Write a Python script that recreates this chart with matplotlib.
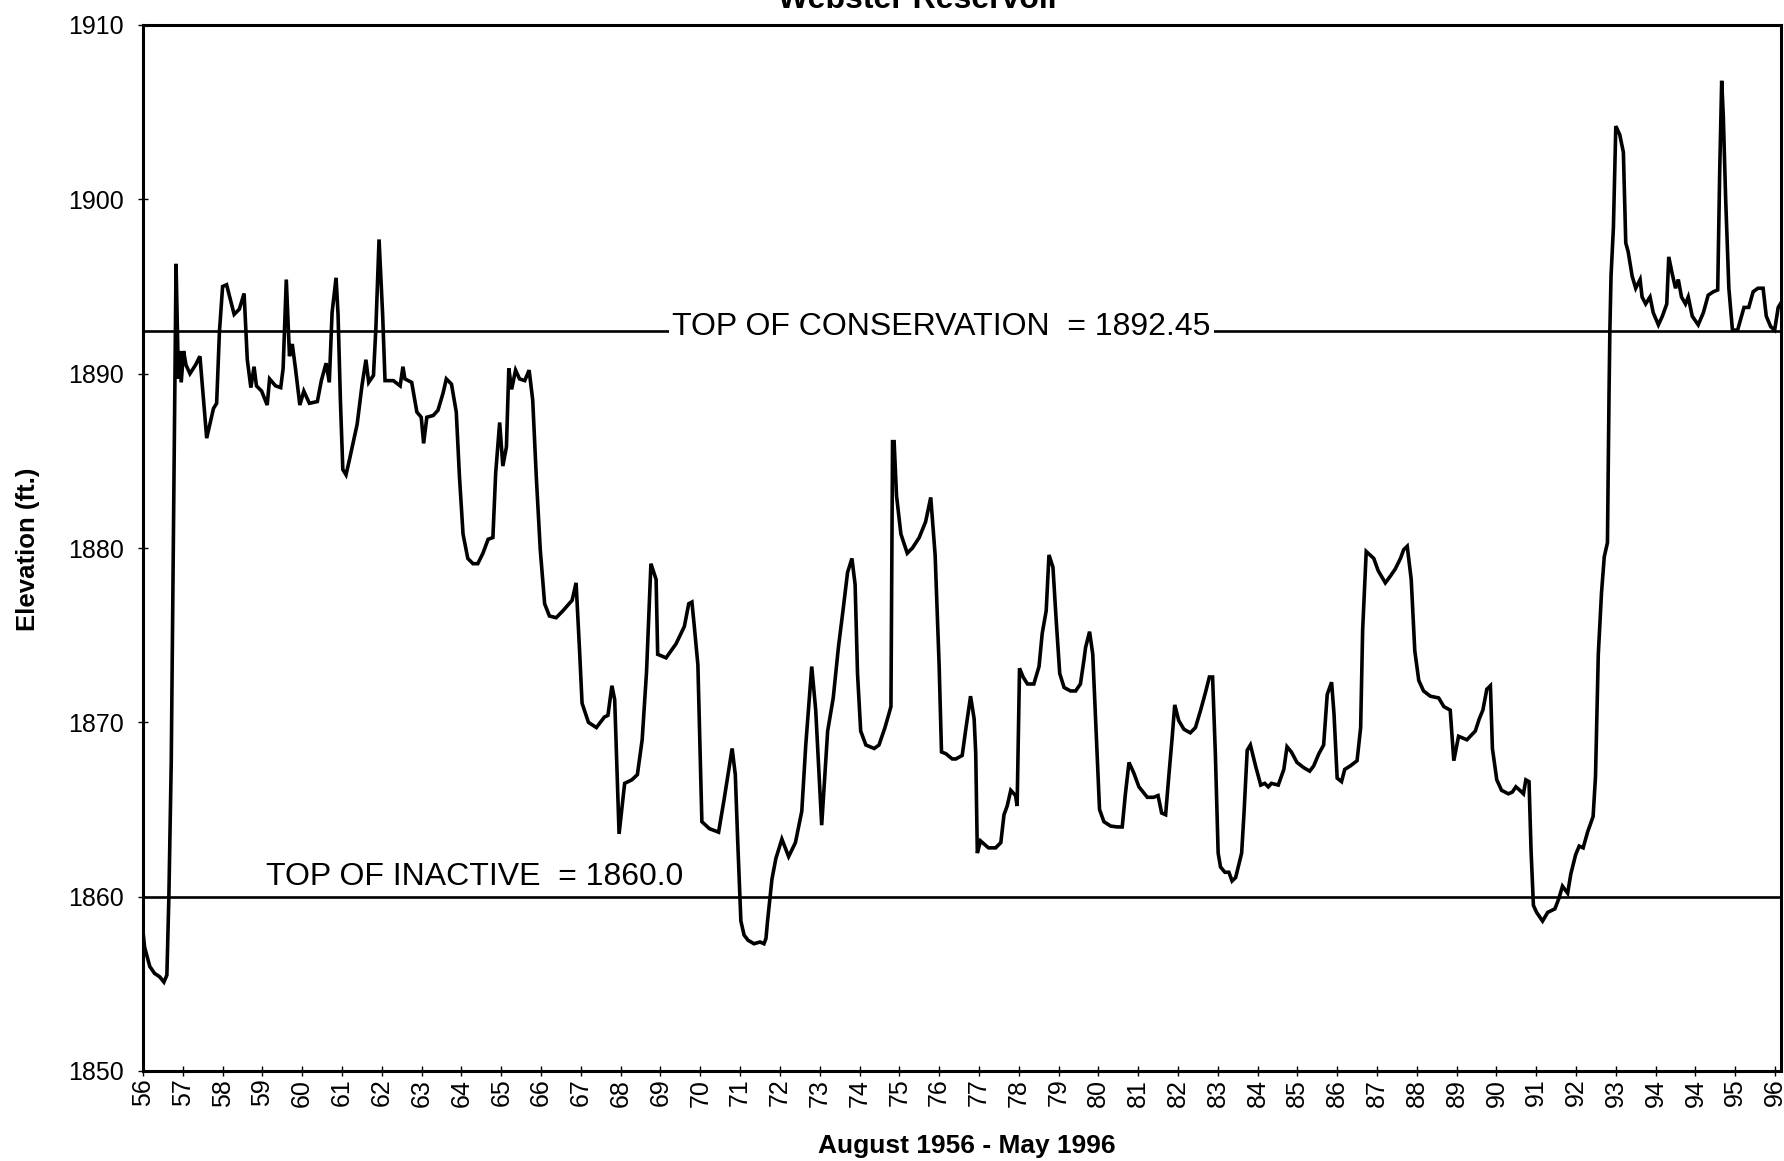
import matplotlib
matplotlib.use('Agg')
import matplotlib.pyplot as plt
import numpy as np

# reservoir elevation, Aug 1956 - May 1996
# pos = position along the category axis, one unit per labelled tick
pos = [
    0.00, 0.04, 0.17, 0.29, 0.42, 0.525, 0.60, 0.65, 0.71, 0.79, 0.83, 0.89, 0.92, 0.96,
    1.02, 1.08, 1.18, 1.32, 1.43, 1.52, 1.60, 1.68, 1.77, 1.85, 1.92,
    2.00, 2.10, 2.29, 2.42, 2.54, 2.62, 2.71, 2.79, 2.85, 2.98,
    3.12, 3.18, 3.33, 3.46, 3.52, 3.60, 3.68, 3.75, 3.83, 3.94,
    4.04, 4.18, 4.38, 4.48, 4.60, 4.68, 4.75, 4.85, 4.90, 4.96,
    5.02, 5.10, 5.18, 5.38, 5.50, 5.60, 5.67, 5.79, 5.85, 5.93,
    6.02, 6.08, 6.29, 6.46, 6.53, 6.58, 6.75, 6.88, 6.99,
    7.05, 7.13, 7.29, 7.41, 7.54, 7.62, 7.75, 7.87, 7.95,
    8.04, 8.16, 8.29, 8.41, 8.54, 8.67, 8.79, 8.86, 8.96,
    9.04, 9.13, 9.19, 9.26, 9.36, 9.46, 9.59, 9.70, 9.79, 9.88, 9.98,
    10.09, 10.21, 10.38, 10.55, 10.78, 10.88, 10.97,
    11.03, 11.19, 11.39, 11.59, 11.68, 11.78, 11.85, 11.96,
    12.10, 12.28, 12.42, 12.54, 12.65, 12.76, 12.89, 12.93,
    13.14, 13.39, 13.60, 13.71, 13.79, 13.85, 13.94,
    14.04, 14.23, 14.46, 14.60, 14.80, 14.88, 14.94,
    15.02, 15.10, 15.20, 15.35, 15.50, 15.60, 15.65, 15.69, 15.80, 15.90,
    16.05, 16.22, 16.39, 16.55, 16.65, 16.80, 16.90,
    17.05, 17.20, 17.34, 17.47, 17.59, 17.70, 17.81, 17.89, 17.95,
    18.03, 18.16, 18.37, 18.49, 18.64, 18.79, 18.83, 18.87, 18.93,
    19.04, 19.20, 19.33, 19.50, 19.66, 19.79, 19.90,
    20.00, 20.06, 20.17, 20.33, 20.42, 20.58, 20.67, 20.79, 20.88, 20.92, 20.96,
    21.04, 21.24, 21.42, 21.55, 21.63, 21.71, 21.80, 21.92, 21.96,
    22.02, 22.11, 22.22, 22.38, 22.51, 22.59, 22.69, 22.76, 22.86, 22.94,
    23.03, 23.14, 23.30, 23.43, 23.55, 23.64, 23.68, 23.78, 23.86, 23.97,
    24.03, 24.14, 24.31, 24.47, 24.60, 24.68, 24.77, 24.89,
    25.02, 25.23, 25.39, 25.50, 25.59, 25.69, 25.77, 25.85, 25.92,
    26.02, 26.15, 26.31, 26.44, 26.57, 26.69, 26.79, 26.87, 26.94,
    27.01, 27.07, 27.18, 27.28, 27.36, 27.45, 27.60, 27.66, 27.74, 27.82, 27.95,
    28.08, 28.18, 28.27, 28.35, 28.52, 28.66, 28.74, 28.85, 28.99,
    29.16, 29.31, 29.41, 29.54, 29.66, 29.75, 29.86, 29.92,
    30.00, 30.11, 30.19, 30.33, 30.50, 30.59, 30.64, 30.73, 30.92,
    31.03, 31.21, 31.34, 31.46, 31.59, 31.67, 31.76, 31.86, 31.95,
    32.05, 32.17, 32.34, 32.55, 32.68, 32.84, 32.93,
    33.05, 33.26, 33.47, 33.57, 33.66, 33.76, 33.85, 33.90,
    34.01, 34.13, 34.30, 34.40, 34.49, 34.59, 34.68, 34.74, 34.82, 34.87, 34.93,
    35.01, 35.16, 35.29, 35.47, 35.57, 35.66, 35.79, 35.87, 35.99,
    36.08, 36.18, 36.29, 36.43, 36.49, 36.56, 36.64, 36.71, 36.79, 36.83, 36.85, 36.88, 36.94,
    37.00, 37.10, 37.19, 37.25, 37.31, 37.41, 37.50, 37.61, 37.66, 37.75, 37.86, 37.94,
    38.07, 38.17, 38.28, 38.33, 38.42, 38.50, 38.57, 38.65, 38.75, 38.82, 38.92,
    39.07, 39.20, 39.32, 39.45, 39.56, 39.61, 39.66, 39.70, 39.76, 39.84, 39.93,
    40.06, 40.22, 40.34, 40.45, 40.57, 40.70, 40.78, 40.89, 40.99,
    41.08, 41.16,
]
elev = [
    1858.0, 1857.1, 1856.0, 1855.6, 1855.4, 1855.1, 1855.5, 1860.0, 1867.8, 1887.1, 1896.3, 1889.7, 1891.3, 1889.5,
    1891.3, 1890.5, 1890.0, 1890.5, 1891.0, 1888.5, 1886.3, 1887.1, 1888.0, 1888.3, 1892.4,
    1895.0, 1895.1, 1893.4, 1893.7, 1894.6, 1890.8, 1889.2, 1890.4, 1889.3, 1889.0,
    1888.2, 1889.7, 1889.3, 1889.2, 1890.3, 1895.4, 1891.0, 1891.7, 1890.3, 1888.2,
    1889.0, 1888.3, 1888.4, 1889.6, 1890.6, 1889.5, 1893.5, 1895.5, 1893.4, 1888.4,
    1884.5, 1884.2, 1885.0, 1887.1, 1889.3, 1890.8, 1889.5, 1889.9, 1892.6, 1897.7,
    1893.4, 1889.6, 1889.6, 1889.3, 1890.4, 1889.7, 1889.5, 1887.8, 1887.5,
    1886.0, 1887.5, 1887.6, 1887.9, 1888.9, 1889.7, 1889.4, 1887.8, 1884.1,
    1880.8, 1879.4, 1879.1, 1879.1, 1879.7, 1880.5, 1880.6, 1884.3, 1887.2,
    1884.7, 1885.8, 1890.3, 1889.1, 1890.2, 1889.7, 1889.6, 1890.2, 1888.5, 1884.1, 1879.9,
    1876.8, 1876.1, 1876.0, 1876.4, 1877.0, 1878.0, 1874.0,
    1871.1, 1870.0, 1869.7, 1870.3, 1870.4, 1872.1, 1871.3, 1863.6,
    1866.5, 1866.7, 1867.0, 1869.0, 1872.9, 1879.1, 1878.2, 1873.9,
    1873.7, 1874.5, 1875.5, 1876.8, 1876.9, 1875.5, 1873.3,
    1864.3, 1863.9, 1863.7, 1865.6, 1868.5, 1867.0, 1863.2,
    1858.6, 1857.8, 1857.5, 1857.3, 1857.4, 1857.3, 1857.6, 1858.6, 1861.0, 1862.2,
    1863.3, 1862.3, 1863.1, 1864.9, 1868.7, 1873.2, 1870.7,
    1864.1, 1869.5, 1871.4, 1874.3, 1876.5, 1878.6, 1879.4, 1877.9, 1872.8,
    1869.5, 1868.7, 1868.5, 1868.7, 1869.7, 1870.9, 1886.1, 1886.1, 1883.0,
    1880.8, 1879.7, 1880.0, 1880.6, 1881.5, 1882.9, 1879.6,
    1873.3, 1868.3, 1868.2, 1867.9, 1867.9, 1868.1, 1869.6, 1871.5, 1870.2, 1868.2, 1862.5,
    1863.2, 1862.8, 1862.8, 1863.1, 1864.7, 1865.2, 1866.1, 1865.8, 1865.2,
    1873.1, 1872.6, 1872.2, 1872.2, 1873.2, 1875.1, 1876.4, 1879.6, 1878.9, 1875.9,
    1872.8, 1872.0, 1871.8, 1871.8, 1872.2, 1873.6, 1874.3, 1875.2, 1873.9, 1868.2,
    1865.0, 1864.3, 1864.05, 1864.0, 1864.0, 1865.9, 1867.7, 1867.1,
    1866.3, 1865.7, 1865.7, 1865.8, 1864.8, 1864.7, 1866.9, 1869.0, 1871.0,
    1870.1, 1869.6, 1869.4, 1869.7, 1870.7, 1871.7, 1872.6, 1872.6, 1868.2,
    1862.5, 1861.7, 1861.4, 1861.4, 1860.9, 1861.1, 1862.5, 1864.8, 1868.4, 1868.7, 1867.5,
    1866.4, 1866.5, 1866.3, 1866.5, 1866.4, 1867.3, 1868.6, 1868.3, 1867.7,
    1867.4, 1867.2, 1867.5, 1868.2, 1868.7, 1871.6, 1872.3, 1870.5,
    1866.8, 1866.6, 1867.3, 1867.5, 1867.8, 1869.7, 1875.3, 1879.8, 1879.4,
    1878.7, 1878.0, 1878.4, 1878.8, 1879.4, 1879.9, 1880.1, 1878.2, 1874.1,
    1872.4, 1871.8, 1871.5, 1871.4, 1870.9, 1870.7, 1867.8,
    1869.2, 1869.0, 1869.5, 1870.2, 1870.7, 1871.9, 1872.1, 1868.5,
    1866.7, 1866.1, 1865.9, 1866.0, 1866.3, 1866.1, 1865.9, 1866.7, 1866.6, 1862.7, 1859.5,
    1859.1, 1858.6, 1859.1, 1859.3, 1859.9, 1860.6, 1860.2, 1861.3, 1862.4,
    1862.9, 1862.8, 1863.7, 1864.6, 1866.9, 1873.9, 1877.4, 1879.5, 1880.3, 1888.9, 1892.4, 1895.6, 1898.4,
    1904.2, 1903.7, 1902.7, 1897.5, 1897.0, 1895.6, 1894.9, 1895.4, 1894.4, 1894.0, 1894.4, 1893.5,
    1892.8, 1893.3, 1894.0, 1896.7, 1895.7, 1894.9, 1895.4, 1894.4, 1894.0, 1894.4, 1893.3,
    1892.8, 1893.5, 1894.5, 1894.7, 1894.8, 1901.6, 1906.8, 1904.8, 1900.0, 1894.9, 1892.5,
    1892.5, 1893.8, 1893.8, 1894.7, 1894.9, 1894.9, 1893.3, 1892.7, 1892.5,
    1893.8, 1894.1,
]

year_labels = [str(y) for y in range(56, 94)] + ['94', '94', '95', '96']
y_ticks = [1850, 1860, 1870, 1880, 1890, 1900, 1910]

top_conservation = 1892.45
top_inactive = 1860.0


def main():
    plt.rcParams['font.family'] = ['Liberation Sans', 'DejaVu Sans']

    fig = plt.figure(figsize=(17.84, 11.61), dpi=100)
    ax = fig.add_axes([143 / 1784, 1 - 1071 / 1161, 1638 / 1784, 1046 / 1161])

    # reference levels
    ax.axhline(top_conservation, color='black', lw=1.9, zorder=1)
    ax.axhline(top_inactive, color='black', lw=1.9, zorder=1)

    ax.plot(pos, elev, color='black', lw=2.6, zorder=3, solid_joinstyle='miter')

    ax.text(20.06, 1892.2, 'TOP OF CONSERVATION  = 1892.45', ha='center',
            va='baseline', fontsize=23, zorder=2,
            bbox=dict(facecolor='white', edgecolor='none', pad=2))
    ax.text(8.34, 1860.66, 'TOP OF INACTIVE  = 1860.0', ha='center',
            va='baseline', fontsize=23, zorder=2)

    ax.set_xlim(0, 41.15)
    ax.set_ylim(1850, 1910)
    ax.set_xticks(np.arange(len(year_labels)))
    ax.set_xticklabels(year_labels, rotation=90)
    ax.set_yticks(y_ticks)

    ax.tick_params(axis='both', direction='inout', length=7, width=1, labelsize=18)
    ax.tick_params(axis='y', pad=10)
    ax.tick_params(axis='x', pad=2)
    for s in ax.spines.values():
        s.set_linewidth(2.2)

    # title sits mostly above the page edge, as in the scanned original
    fig.text(919 / 1784, 1 - 8 / 1161, 'Webster Reservoir', ha='center',
             va='baseline', fontsize=23, fontweight='bold')
    fig.text(28 / 1784, 1 - 549 / 1161, 'Elevation (ft.)', rotation=90,
             ha='center', va='center', fontsize=18.5, fontweight='bold')
    fig.text(967 / 1784, 1 - 1146 / 1161, 'August 1956 - May 1996',
             ha='center', va='center', fontsize=19, fontweight='bold')

    fig.savefig('out.png', dpi=100, facecolor='white')


if __name__ == "__main__":
    main()
